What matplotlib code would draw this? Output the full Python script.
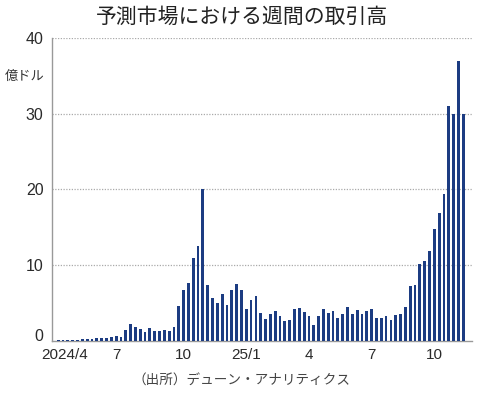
import numpy as np
import matplotlib
matplotlib.use('Agg')
import matplotlib.pyplot as plt

# weekly trading volume (100M USD), week 1 = first week of 2024/4
volume = [
    0.1, 0.1, 0.1, 0.1, 0.15, 0.2, 0.25, 0.3, 0.35, 0.35,
    0.35, 0.5, 0.6, 0.5, 1.45, 2.2, 1.8, 1.6, 1.15, 1.7,
    1.3, 1.3, 1.45, 1.3, 1.9, 4.65, 6.7, 7.7, 10.9, 12.5,
    20.0, 7.4, 5.65, 5.05, 6.15, 4.8, 6.75, 7.5, 6.75, 4.2,
    5.4, 5.95, 3.75, 2.85, 3.5, 3.9, 3.35, 2.65, 2.8, 4.2,
    4.3, 3.85, 3.3, 2.05, 3.25, 4.2, 3.75, 4.0, 3.1, 3.6,
    4.45, 3.55, 4.15, 3.5, 4.0, 4.2, 3.1, 3.1, 3.3, 2.8,
    3.45, 3.6, 4.45, 7.25, 7.35, 10.1, 10.5, 11.9, 14.8, 16.9,
    19.4, 31.0, 30.0, 37.0, 30.0,
]
tick_weeks = [1.3, 12, 26, 39, 52, 65, 78]
tick_labels = ['2024/4', '7', '10', '25/1', '4', '7', '10']
y_ticks = [0, 10, 20, 30, 40]

title = '予測市場における週間の取引高'
unit = '億ドル'
source = '（出所）デューン・アナリティクス'

jp = ['Noto Sans CJK JP', 'DejaVu Sans']
num = ['Liberation Sans', 'DejaVu Sans']
plt.rcParams['font.family'] = jp

fig = plt.figure(figsize=(4.84, 3.94), dpi=100)
ax = fig.add_axes([0.1074, 0.1345, 0.975 - 0.1074, 0.9036 - 0.1345])

x = np.arange(len(volume))
ax.bar(x, volume, width=0.58, color='#1c3c82', zorder=3)

ax.set_xlim(-1.3, len(volume) - 1 + 1.8)
ax.set_ylim(0, 40)
ax.set_yticks(y_ticks)
ax.set_yticklabels([str(v) for v in y_ticks], family=num, fontsize=11.5,
                   color='#2a2a2a')
# the reference lifts the "0" label off the x axis
ax.get_yticklabels()[0].set_verticalalignment('baseline')
ax.set_xticks(tick_weeks)
ax.set_xticklabels(tick_labels, family=num, fontsize=11, color='#2a2a2a')
ax.tick_params(axis='both', length=0)
ax.tick_params(axis='y', pad=6)
ax.tick_params(axis='x', pad=5)

for v in y_ticks[1:]:
    ax.axhline(v, color='#aaaaaa', lw=0.9, ls=(0, (1, 1.2)), zorder=1)

for side in ['top', 'right']:
    ax.spines[side].set_visible(False)
ax.spines['left'].set_color('#999999')
ax.spines['bottom'].set_color('#999999')
ax.spines['left'].set_linewidth(1.0)
ax.spines['bottom'].set_linewidth(1.0)

fig.text(0.5, 0.957, title, ha='center', va='center', fontsize=15,
         color='#222222')
fig.text(45 / 484, 1 - 76 / 394, unit, ha='right', va='center',
         fontsize=9.5, color='#333333')
fig.text(241 / 484, 1 - 381 / 394, source, ha='center', va='center',
         fontsize=9.8, color='#444444')

fig.savefig('out.png', dpi=100)
